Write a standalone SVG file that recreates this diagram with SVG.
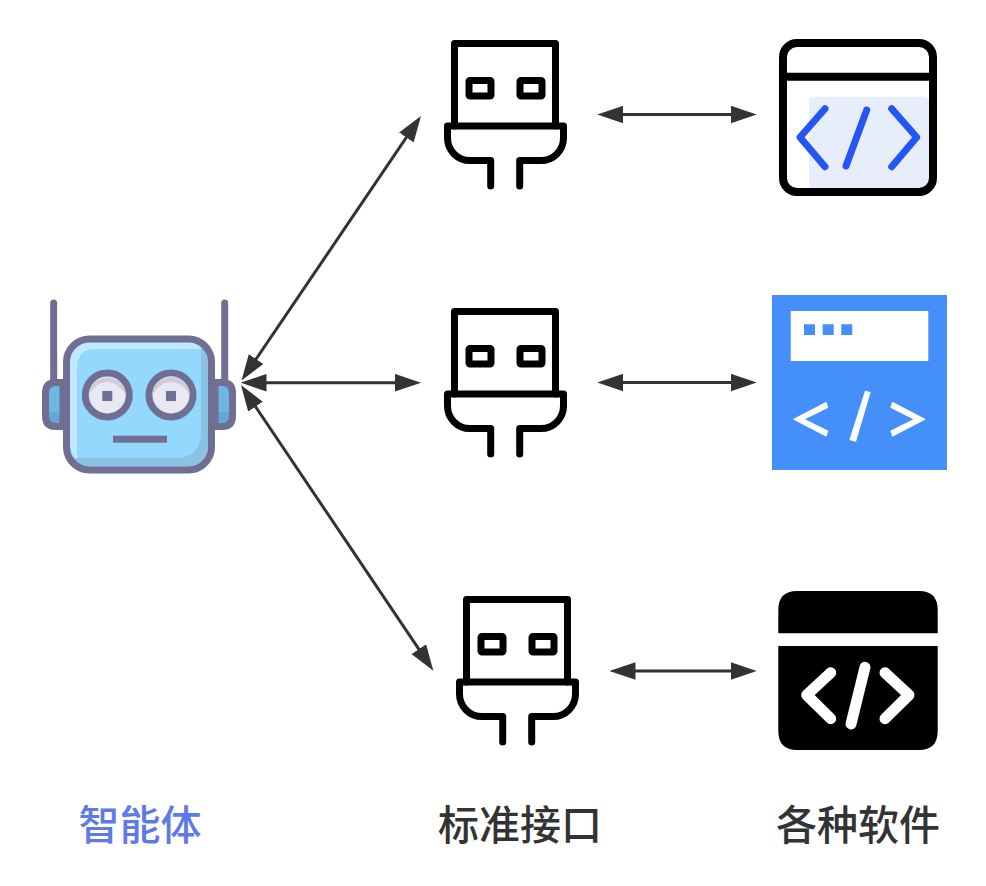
<svg xmlns="http://www.w3.org/2000/svg" width="986" height="886" viewBox="0 0 986 886">
<style>
.usb{fill:none;stroke:#000;stroke-width:7;stroke-linecap:round;stroke-linejoin:round}
.ln{fill:none;stroke:#706e93;stroke-width:7}
.cn{fill:none;stroke:#333;stroke-width:3;marker-start:url(#a);marker-end:url(#a)}
text{font-family:"Noto Sans CJK SC","Liberation Sans",sans-serif;font-size:41px;font-weight:500;text-anchor:middle;fill:#333}
</style>
<defs>
<marker id="a" viewBox="0 0 26 18" refX="10" refY="9" markerWidth="26" markerHeight="18" markerUnits="userSpaceOnUse" orient="auto-start-reverse"><path d="M0 .2L26 9L0 17.800Z" fill="#333"/></marker>
<g id="usb">
<path class="usb" d="M454.500 126V43.500H555.500V126"/>
<rect class="usb" x="469" y="80.500" width="22" height="15.500" rx="1"/>
<rect class="usb" x="520" y="80.500" width="22" height="15.500" rx="1"/>
<path class="usb" d="M490.700 186V160.500H470A22.500 22.500 0 0 1 447.500 138V126H563.500V138A22.500 22.500 0 0 1 541 160.500H519.700V186"/>
</g>
</defs>
<rect width="986" height="886" fill="#fff"/>
<g id="connectors">
<path class="cn" d="M250.500 367.300L412 129.200"/>
<path class="cn" d="M256.500 382.700H405"/>
<path class="cn" d="M249.900 398.300L424.400 657.400"/>
<path class="cn" d="M613.300 114.500H740.700"/>
<path class="cn" d="M613.300 382.500H740.700"/>
<path class="cn" d="M625.500 671H740.700"/>
</g>
<g id="robot">
<path class="ln" stroke-linecap="round" d="M53.700 303V380M224.700 303V380"/>
<path d="M63 382.500H56Q45.500 382.500 45.500 393V416Q45.500 426.500 56 426.500H63Z" fill="#6cb7e4"/>
<path d="M63 412H45.500V416Q45.500 426.500 56 426.500H63Z" fill="#68a5d4"/>
<path d="M63 382.500H56Q45.500 382.500 45.500 393V416Q45.500 426.500 56 426.500H63Z" fill="none" stroke="#706e93" stroke-width="7"/>
<path d="M215 382.500H222Q232.500 382.500 232.500 393V416Q232.500 426.500 222 426.500H215Z" fill="#6cb7e4"/>
<path d="M215 412H232.500V416Q232.500 426.500 222 426.500H215Z" fill="#68a5d4"/>
<path d="M215 382.500H222Q232.500 382.500 232.500 393V416Q232.500 426.500 222 426.500H215Z" fill="none" stroke="#706e93" stroke-width="7"/>
<rect x="66.500" y="339" width="145" height="131" rx="23" fill="#94d9fd"/>
<path d="M70 360Q70 342 88 342H190Q201 342 201 349H96Q77 349 77 368V462Q70 452 70 442Z" fill="#bfe9fe"/>
<path d="M201 346Q208 350 208 362V445Q208 466 187 466H85Q76 466 72 458H175Q201 458 201 432Z" fill="#8ac2e3"/>
<rect x="66.500" y="339" width="145" height="131" rx="23" fill="none" stroke="#706e93" stroke-width="7"/>
<circle cx="107.300" cy="395" r="22" fill="#e9e9f3" stroke="#706e93" stroke-width="7"/>
<circle cx="171" cy="395" r="22" fill="#e9e9f3" stroke="#706e93" stroke-width="7"/>
<path d="M88.500 395A18.800 18.800 0 0 1 126 395Q118 382 107.300 382Q96 382 88.500 395Z" fill="#cdcddb"/>
<path d="M152.200 395A18.800 18.800 0 0 1 189.800 395Q182 382 171 382Q160 382 152.200 395Z" fill="#cdcddb"/>
<rect x="102.300" y="391" width="10" height="10" fill="#706e93"/>
<rect x="166" y="391" width="10" height="10" fill="#706e93"/>
<rect x="113" y="435.700" width="54" height="7" fill="#706e93"/>
</g>
<g id="usb-1"><use href="#usb"/></g>
<g id="usb-2"><use href="#usb" y="268"/></g>
<g id="usb-3"><use href="#usb" x="12" y="556"/></g>
<g id="software-1">
<rect x="809" y="96.700" width="120" height="93" rx="5" fill="#e8edfc"/>
<rect x="783" y="43" width="150" height="149" rx="14" fill="none" stroke="#000" stroke-width="8"/>
<path d="M783 76.700H933" stroke="#000" stroke-width="8"/>
<path d="M825 108.700L800 137.300L825 166.700M866.700 110L846 166M891.700 108.700L916.700 137.300L891.700 166.700" fill="none" stroke="#2456f5" stroke-width="7" stroke-linecap="round" stroke-linejoin="round"/>
</g>
<g id="software-2">
<rect x="772" y="295" width="175" height="175" fill="#448ff9"/>
<rect x="790.700" y="311" width="137.600" height="50" fill="#fff"/>
<path d="M804 324.300h11v10.700h-11zM822.700 324.300h11v10.700h-11zM841.300 324.300h11v10.700h-11z" fill="#448ff9"/>
<path d="M792.700 419.300L826.300 401.700L828.300 407.700L805 419.300L828.300 430.700L826.300 436.700ZM865 390.700L870.700 392L856 441.700L849.300 440ZM926 419.300L892.300 401.700L890.300 407.700L913.300 419.300L890.300 430.700L892.300 436.700Z" fill="#fff"/>
</g>
<g id="software-3">
<path d="M778.300 633.300V610Q778.300 591 797 591H919Q937.700 591 937.700 610V633.300Z" fill="#000"/>
<path d="M778.300 646H937.700V731Q937.700 750 919 750H797Q778.300 750 778.300 731Z" fill="#000"/>
<path d="M830.700 672.700L806.700 695L830.700 718.700M885 672.700L909 695L885 718.700M865 667.300L851 724" fill="none" stroke="#fff" stroke-width="11" stroke-linecap="round" stroke-linejoin="round"/>
</g>
<g id="labels">
<text x="140" y="840" style="fill:#6079e8">智能体</text>
<text x="520" y="840">标准接口</text>
<text x="858" y="840">各种软件</text>
</g>
</svg>
